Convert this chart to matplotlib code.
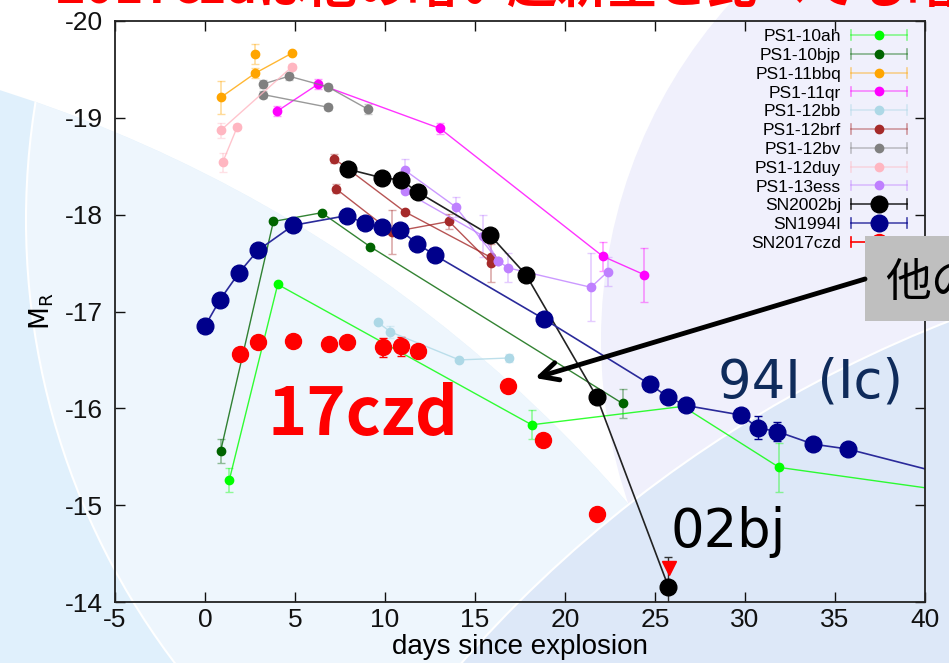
import numpy as np
import matplotlib
matplotlib.use("Agg")
import matplotlib.pyplot as plt
from matplotlib.colors import to_rgba
from matplotlib.lines import Line2D
from matplotlib.patches import Circle, Rectangle
from matplotlib.legend_handler import HandlerBase

plt.rcParams['font.family'] = ['Liberation Sans', 'DejaVu Sans']
plt.rcParams['axes.unicode_minus'] = False

# ---- data (days since explosion, M_R) ----
ps1_10ah_t = [1.35, 4.04, 18.15, 26.55, 31.9, 45.0]
ps1_10ah_m = [-15.26, -17.28, -15.83, -16.02, -15.39, -15.05]
ps1_10ah_e = [0.12, 0.0, 0.15, 0.0, 0.25, 0.0]

ps1_10bjp_t = [0.87, 3.8, 6.48, 9.17, 23.2]
ps1_10bjp_m = [-15.56, -17.93, -18.02, -17.67, -16.05]
ps1_10bjp_e = [0.12, 0.0, 0.0, 0.0, 0.15]

ps1_11bbq_t = [0.87, 2.78, 4.85]
ps1_11bbq_m = [-19.21, -19.46, -19.67]
ps1_11bbq_e = [0.17, 0.05, 0.0]
ps1_11bbq_xt = [2.78]
ps1_11bbq_xm = [-19.66]
ps1_11bbq_xe = [0.1]

ps1_11qr_t = [4.02, 6.3, 13.06, 22.1, 24.4]
ps1_11qr_m = [-19.07, -19.35, -18.89, -17.57, -17.38]
ps1_11qr_e = [0.05, 0.05, 0.06, 0.15, 0.28]

ps1_12bb_t = [9.59, 10.3, 14.13, 16.9]
ps1_12bb_m = [-16.89, -16.79, -16.50, -16.52]
ps1_12bb_e = [0.0, 0.06, 0.0, 0.04]

ps1_12brf_a_t = [7.17, 11.1, 15.87]
ps1_12brf_a_m = [-18.58, -18.03, -17.56]
ps1_12brf_a_e = [0.05, 0.0, 0.0]
ps1_12brf_b_t = [7.26, 10.37, 13.56, 15.87]
ps1_12brf_b_m = [-18.27, -17.82, -17.93, -17.50]
ps1_12brf_b_e = [0.05, 0.23, 0.08, 0.2]

ps1_12bv_a_t = [3.24, 4.67, 6.82, 9.04]
ps1_12bv_a_m = [-19.35, -19.43, -19.32, -19.09]
ps1_12bv_a_e = [0.04, 0.04, 0.03, 0.05]
ps1_12bv_b_t = [3.24, 6.82]
ps1_12bv_b_m = [-19.24, -19.11]
ps1_12bv_b_e = [0.04, 0.03]

ps1_12duy_a_t = [0.98, 1.8]
ps1_12duy_a_m = [-18.54, -18.91]
ps1_12duy_a_e = [0.1, 0.03]
ps1_12duy_b_t = [0.87, 4.85]
ps1_12duy_b_m = [-18.87, -19.53]
ps1_12duy_b_e = [0.08, 0.03]

ps1_13ess_a_t = [11.1, 13.93, 16.3, 16.85, 21.44, 22.37]
ps1_13ess_a_m = [-18.46, -18.08, -17.52, -17.45, -17.25, -17.41]
ps1_13ess_a_e = [0.12, 0.1, 0.0, 0.15, 0.35, 0.15]
ps1_13ess_b_t = [11.1, 15.45, 16.3]
ps1_13ess_b_m = [-18.24, -17.78, -17.52]
ps1_13ess_b_e = [0.0, 0.22, 0.0]

sn2002bj_t = [7.93, 9.85, 10.87, 11.85, 15.83, 17.83, 21.76, 25.74]
sn2002bj_m = [-18.47, -18.38, -18.36, -18.23, -17.79, -17.38, -16.12, -14.16]
sn2002bj_e = [0, 0, 0, 0, 0, 0, 0, 0.3]

sn1994i_t = [0.0, 0.83, 1.89, 2.93, 4.9, 7.87, 8.89, 9.82, 10.83, 11.8, 12.78,
             18.85, 24.7, 25.7, 26.7, 29.8, 30.7, 31.8, 33.8, 35.7, 44.5]
sn1994i_m = [-16.85, -17.12, -17.40, -17.63, -17.89, -17.99, -17.91, -17.87, -17.84,
             -17.70, -17.58, -16.92, -16.25, -16.12, -16.03, -15.93, -15.80, -15.76,
             -15.63, -15.58, -15.16]
sn1994i_e = [0.06, 0.07, 0, 0, 0, 0, 0, 0, 0, 0, 0, 0, 0, 0, 0, 0, 0.12, 0.1, 0, 0, 0]

sn2017czd_t = [1.94, 2.93, 4.9, 6.89, 7.87, 9.87, 10.87, 11.85, 16.85, 18.8, 21.8]
sn2017czd_m = [-16.56, -16.68, -16.70, -16.66, -16.69, -16.63, -16.64, -16.59,
               -16.23, -15.67, -14.91]
sn2017czd_e = [0, 0, 0, 0, 0, 0.1, 0.1, 0, 0, 0, 0]
sn2017czd_lim_t = [25.8]
sn2017czd_lim_m = [-14.35]

xticks = [-5, 0, 5, 10, 15, 20, 25, 30, 35, 40]
yticks = [-20, -19, -18, -17, -16, -15, -14]

title = "2017czdは他の暗い超新星と比べても暗い"


class ErrHandler(HandlerBase):
    def __init__(self, bar_alpha):
        super().__init__()
        self.bar_alpha = bar_alpha

    def create_artists(self, legend, orig_handle, xdescent, ydescent,
                       width, height, fontsize, trans):
        c = orig_handle.get_markerfacecolor()
        bc = to_rgba(c, self.bar_alpha)
        y = height / 2 - ydescent
        x0, x1 = -xdescent, -xdescent + width
        h = 3.5
        arts = [Line2D([x0, x1], [y, y], color=bc, lw=1.2),
                Line2D([x0, x0], [y - h, y + h], color=bc, lw=1.2),
                Line2D([x1, x1], [y - h, y + h], color=bc, lw=1.2),
                Line2D([(x0 + x1) / 2], [y], marker='o', ls='none',
                       ms=orig_handle.get_markersize(), color=c, mec=c)]
        for a in arts:
            a.set_transform(trans)
        return arts


W, H = 949, 663
fig = plt.figure(figsize=(W / 100, H / 100), dpi=100)

# slide background shapes (pixel coordinates)
bg = fig.add_axes([0, 0, 1, 1], zorder=-10)
bg.set_xlim(0, W)
bg.set_ylim(H, 0)
bg.axis('off')
bg.add_patch(Circle((1105, 340), 504, fc='#f0f0fc', ec='none'))
c1 = Circle((-416, 1406), 1380, fc='#e0f0fc', ec='none')
bg.add_patch(c1)
c3 = Circle((760, 220), 734, fc='#eef6fd', ec='white', lw=1.5)
bg.add_patch(c3)
c3.set_clip_path(c1)
bg.add_patch(Circle((1406, 1491), 1256, fc='#dde8f8', ec='white', lw=1.5))

ax = fig.add_axes([115 / W, 1 - 602 / H, 810 / W, 581 / H])
ax.patch.set_alpha(0)

small = [
    ('PS1-10ah', '#00ff00', [(ps1_10ah_t, ps1_10ah_m, ps1_10ah_e)]),
    ('PS1-10bjp', '#006400', [(ps1_10bjp_t, ps1_10bjp_m, ps1_10bjp_e)]),
    ('PS1-11bbq', '#ffa500', [(ps1_11bbq_t, ps1_11bbq_m, ps1_11bbq_e)]),
    ('PS1-11qr', '#ff00ff', [(ps1_11qr_t, ps1_11qr_m, ps1_11qr_e)]),
    ('PS1-12bb', '#add8e6', [(ps1_12bb_t, ps1_12bb_m, ps1_12bb_e)]),
    ('PS1-12brf', '#a52a2a', [(ps1_12brf_a_t, ps1_12brf_a_m, ps1_12brf_a_e),
                              (ps1_12brf_b_t, ps1_12brf_b_m, ps1_12brf_b_e)]),
    ('PS1-12bv', '#808080', [(ps1_12bv_a_t, ps1_12bv_a_m, ps1_12bv_a_e),
                             (ps1_12bv_b_t, ps1_12bv_b_m, ps1_12bv_b_e)]),
    ('PS1-12duy', '#ffb6c1', [(ps1_12duy_a_t, ps1_12duy_a_m, ps1_12duy_a_e),
                              (ps1_12duy_b_t, ps1_12duy_b_m, ps1_12duy_b_e)]),
    ('PS1-13ess', '#bf80ff', [(ps1_13ess_a_t, ps1_13ess_a_m, ps1_13ess_a_e),
                              (ps1_13ess_b_t, ps1_13ess_b_m, ps1_13ess_b_e)]),
]

handles, labels, hmap = [], [], {}
for name, col, parts in small:
    for t, m, e in parts:
        eb = ax.errorbar(t, m, yerr=e, fmt='-o', color=to_rgba(col, 0.8), lw=1.0,
                         mfc=col, mec=col, ms=6, ecolor=to_rgba(col, 0.4),
                         elinewidth=1.2, capsize=3)
    handles.append(eb[0])
    labels.append(name)
    hmap[eb[0]] = ErrHandler(0.45)

eb = ax.errorbar(ps1_11bbq_xt, ps1_11bbq_xm, yerr=ps1_11bbq_xe, fmt='o', mfc='#ffa500',
                 mec='#ffa500', ms=6, ecolor=to_rgba('#ffa500', 0.4), elinewidth=1.2, capsize=3)

eb = ax.errorbar(sn2002bj_t, sn2002bj_m, yerr=sn2002bj_e, fmt='-o', color='#222222', lw=1.2,
                 mfc='black', mec='black', ms=12, ecolor='#333333', elinewidth=1.0, capsize=3)
handles.append(eb[0]); labels.append('SN2002bj'); hmap[eb[0]] = ErrHandler(0.8)

eb = ax.errorbar(sn1994i_t, sn1994i_m, yerr=sn1994i_e, fmt='-o', color='#2a2a9a', lw=1.2,
                 mfc='#00008b', mec='#00008b', ms=12, ecolor='#00008b', elinewidth=1.0, capsize=3)
handles.append(eb[0]); labels.append('SN1994I'); hmap[eb[0]] = ErrHandler(0.7)

ax.plot(sn2017czd_lim_t, sn2017czd_lim_m, 'v', color='red', ms=10)
eb = ax.errorbar(sn2017czd_t, sn2017czd_m, yerr=sn2017czd_e, fmt='o', mfc='red', mec='red',
                 ms=11.5, ecolor='red', elinewidth=1.2, capsize=3)
handles.append(eb[0]); labels.append('SN2017czd'); hmap[eb[0]] = ErrHandler(1.0)

ax.set_xlim(-5, 40)
ax.set_ylim(-14, -20)
ax.set_xticks(xticks)
ax.set_yticks(yticks)
ax.tick_params(direction='in', length=7, width=1, top=True, right=True, labelsize=19,
               colors='#111111')
ax.tick_params(axis='x', pad=4)
ax.tick_params(axis='y', pad=9)
for s in ax.spines.values():
    s.set_linewidth(1.3)
    s.set_color('#222222')
ax.set_xlabel('days since explosion', fontsize=20, labelpad=2)
ax.set_ylabel(r'$\mathrm{M_R}$', fontsize=19, labelpad=6)

leg = ax.legend(handles, labels, handler_map=hmap, loc='upper right',
                bbox_to_anchor=(907 / W, 1 - 29 / H), bbox_transform=fig.transFigure,
                frameon=False, markerfirst=False, fontsize=12.5, handlelength=3.2,
                handletextpad=0.6, labelspacing=0.21, borderpad=0, borderaxespad=0)

# overlay annotations (pixel coordinates)
ov = fig.add_axes([0, 0, 1, 1], zorder=10)
ov.set_xlim(0, W)
ov.set_ylim(H, 0)
ov.axis('off')
ov.patch.set_alpha(0)
ov.text(55, 3, title, color='red', fontsize=36, fontweight='bold', va='baseline',
        family=['Noto Sans CJK JP', 'DejaVu Sans'])
ov.add_patch(Rectangle((865, 236), 100, 85, fc='#bfbfbf', ec='none'))
ov.text(885, 283, '他の', fontsize=33, va='center', ha='left',
        family=['Noto Sans CJK JP', 'DejaVu Sans'])
ov.annotate('', xy=(535, 378), xytext=(865, 279),
            arrowprops=dict(arrowstyle='->', lw=3.5, color='black', mutation_scale=32,
                            shrinkA=0, shrinkB=0))
ov.text(268, 435, '17czd', color='red', fontsize=48, fontweight='bold', va='baseline',
        family=['Noto Sans CJK JP', 'DejaVu Sans'])
ov.text(718, 397, '94I (Ic)', color='#0f2b5b', fontsize=38, va='baseline',
        family=['DejaVu Sans'])
ov.text(671, 547, '02bj', color='black', fontsize=38, va='baseline',
        family=['DejaVu Sans'])

fig.savefig('out.png', dpi=100)
